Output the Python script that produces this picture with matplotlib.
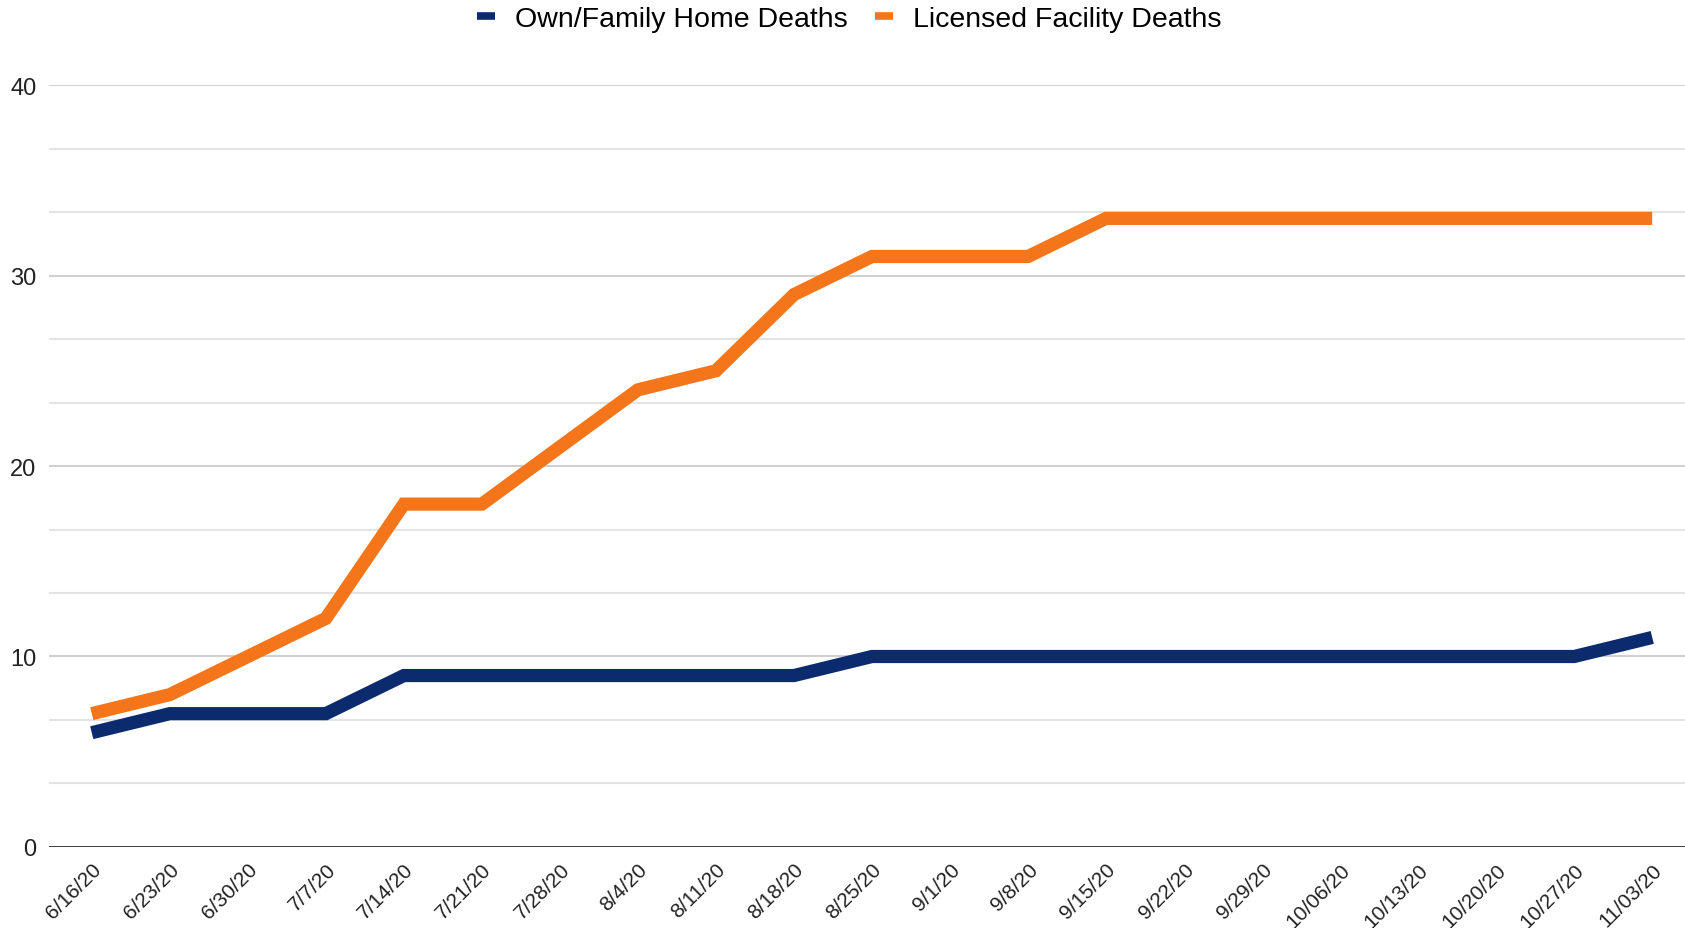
import matplotlib.pyplot as plt
import numpy as np

plt.rcParams['font.family'] = ['Liberation Sans', 'DejaVu Sans']

dates = ['6/16/20', '6/23/20', '6/30/20', '7/7/20', '7/14/20', '7/21/20', '7/28/20',
         '8/4/20', '8/11/20', '8/18/20', '8/25/20', '9/1/20', '9/8/20', '9/15/20',
         '9/22/20', '9/29/20', '10/06/20', '10/13/20', '10/20/20', '10/27/20', '11/03/20']
home_deaths = [6, 7, 7, 7, 9, 9, 9, 9, 9, 9, 10, 10, 10, 10, 10, 10, 10, 10, 10, 10, 11]
facility_deaths = [7, 8, 10, 12, 18, 18, 21, 24, 25, 29, 31, 31, 31, 33, 33, 33, 33, 33, 33, 33, 33]

navy = '#0c2a6e'
orange = '#f5761a'

fig = plt.figure(figsize=(16.85, 9.29), dpi=100)
ax = fig.add_axes([0.029, 0.0872, 0.971, 0.8202])

x = np.arange(len(dates))
ax.plot(x, home_deaths, color=navy, lw=9.5, solid_joinstyle='miter', solid_capstyle='butt',
        label='Own/Family Home Deaths', zorder=3)
ax.plot(x, facility_deaths, color=orange, lw=9.5, solid_joinstyle='miter', solid_capstyle='butt',
        label='Licensed Facility Deaths', zorder=3)

ax.set_xlim(-0.55, 20.42)
ax.set_ylim(0, 40)
ax.set_yticks([0, 10, 20, 30, 40])
minor = [v for v in np.arange(0, 40.01, 10 / 3) if abs(v % 10) > 0.1 and abs(v % 10 - 10) > 0.1]
ax.set_yticks(minor, minor=True)
ax.grid(axis='y', which='major', color='#d0d0d0', lw=1.5)
ax.grid(axis='y', which='minor', color='#e4e4e4', lw=1.5)
ax.set_axisbelow(True)
ax.axhline(0, color='#333333', lw=2, zorder=2)

ax.set_xticks(x)
ax.set_xticklabels(dates, rotation=45, ha='right', rotation_mode='anchor')
ax.tick_params(axis='both', length=0, colors='#222222')
ax.tick_params(axis='x', pad=9, labelsize=15)
ax.tick_params(axis='y', pad=9, labelsize=17)
ax.tick_params(axis='y', which='minor', length=0)
for s in ax.spines.values():
    s.set_visible(False)

leg = fig.legend(loc='center', bbox_to_anchor=(0.504, 0.978), ncol=2, frameon=False,
                 fontsize=20.5, handlelength=0.65, handletextpad=0.7, columnspacing=0.95)
for line in leg.get_lines():
    line.set_linewidth(5.5)

fig.savefig('out.png', dpi=100)
